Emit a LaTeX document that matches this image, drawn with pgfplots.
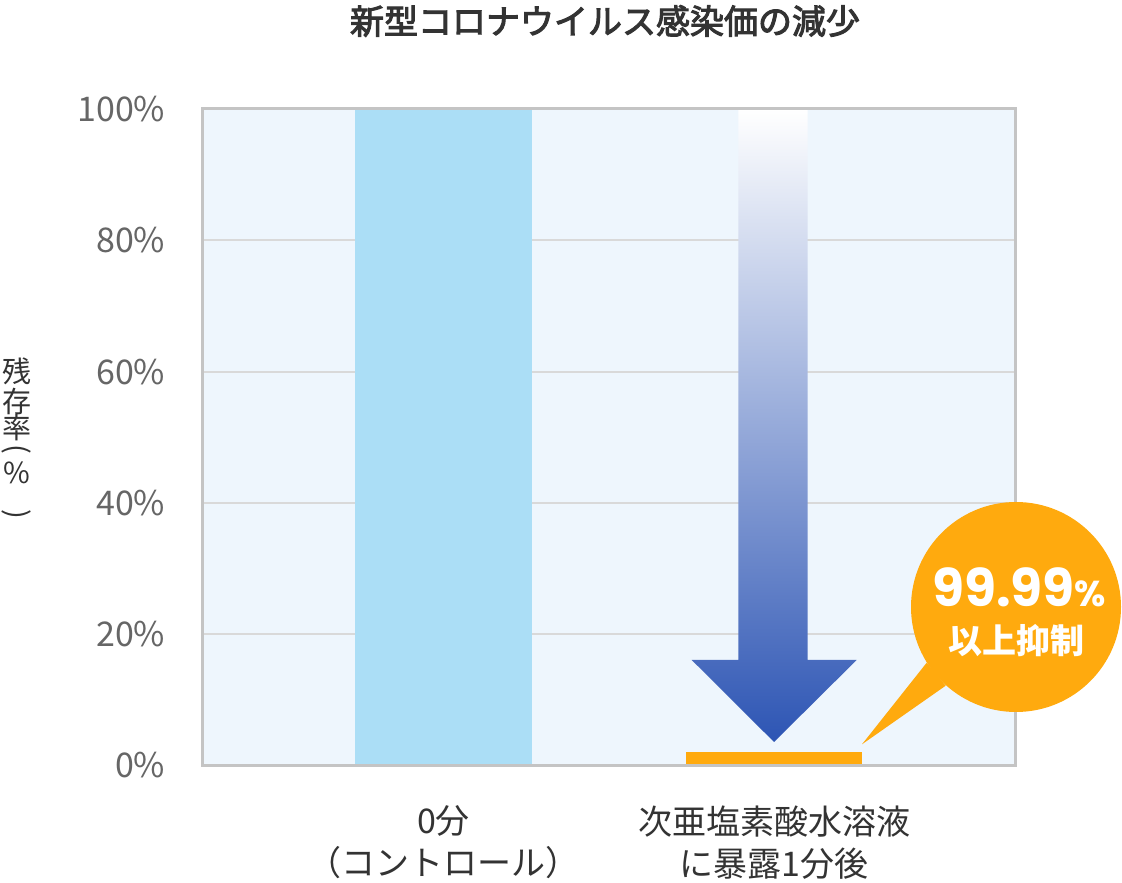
\documentclass[border=0pt]{standalone}
\usepackage{fontspec}
\setmainfont{Noto Sans CJK JP}
\newfontfamily\popp{Poppins}
\newfontfamily\titlefont[FakeBold=3]{Noto Sans CJK JP}
\usepackage{pgfplots}
\pgfplotsset{compat=1.18}

\definecolor{bgblue}{HTML}{EEF6FD}
\definecolor{barblue}{HTML}{ABDEF6}
\definecolor{orng}{HTML}{FFAA0E}
\definecolor{framegray}{HTML}{C4C4C4}
\definecolor{gridgray}{HTML}{D9D9D9}
\definecolor{ticktxt}{HTML}{666666}
\definecolor{txt}{HTML}{333333}
\definecolor{arrowblue}{RGB}{45,85,180}

\begin{document}
\begin{tikzpicture}[x=1pt,y=1pt]
\useasboundingbox (0,0) rectangle (1122,883);
\begin{axis}[
    at={(202.5pt,117.5pt)}, anchor=south west,
    scale only axis,
    width=812.5pt, height=656.5pt,
    xmin=-0.729, xmax=1.729,
    ymin=0, ymax=100,
    axis background/.style={fill=bgblue},
    axis line style={draw=none},
    ymajorgrids=true,
    major grid style={gridgray, line width=2pt},
    xtick={0,1},
    xticklabels={{0分\\（コントロール）},{次亜塩素酸水溶液\\に暴露1分後}},
    ytick={0,20,40,60,80,100},
    yticklabels={0\%,20\%,40\%,60\%,80\%,100\%},
    major tick length=0pt,
    yticklabel style={anchor=east, inner sep=0pt, xshift=-37pt,
        text=ticktxt, font=\fontsize{34}{40}\selectfont},
    xticklabel style={anchor=north, inner sep=0pt, yshift=-40pt, align=center,
        text=txt, font=\fontsize{34}{42}\selectfont},
    clip=false,
]
\addplot[ybar, bar shift=0pt, bar width=0.535, fill=barblue, draw=none]
    coordinates {(0,100)};
\addplot[ybar, bar shift=0pt, bar width=0.535, fill=orng, draw=none]
    coordinates {(1,2)};

% gradient arrow
\shade[top color=white, bottom color=arrowblue]
    (axis cs:0.892,100) -- (axis cs:1.102,100) -- (axis cs:1.102,16.07)
    -- (axis cs:1.250,16.07) -- (axis cs:1.0,3.58) -- (axis cs:0.751,16.07)
    -- (axis cs:0.892,16.07) -- cycle;

\draw[framegray, line width=3pt] (rel axis cs:0,0) rectangle (rel axis cs:1,1);
\end{axis}

% callout bubble
\fill[orng] (1016,276) circle (105);
\fill[orng] (926.7,220.3) -- (862,138.7) -- (945.7,197.3) -- cycle;
\node[anchor=base, inner sep=0pt, text=white] at (1019,276.3)
    {{\popp\bfseries\fontsize{52}{52}\selectfont 99.99}{\popp\bfseries\fontsize{36}{36}\selectfont\%}};
\node[text=white, inner sep=0pt, font=\bfseries\fontsize{34}{34}\selectfont] at (1016,242) {以上抑制};

% title
\node[text=txt, font=\titlefont\fontsize{34}{40}\selectfont] at (605,862) {新型コロナウイルス感染価の減少};

% y label (vertical, one glyph per node)
\begin{scope}[every node/.style={text=txt, inner sep=0pt, font=\fontsize{29}{29}\selectfont}]
\node at (17,511.5) {残};
\node at (17,482) {存};
\node at (17,455.5) {率};
\node[rotate=-90] at (17,434) {(};
\node at (17,410.5) {\%};
\node[rotate=-90] at (17,369) {)};
\end{scope}
\end{tikzpicture}
\end{document}
